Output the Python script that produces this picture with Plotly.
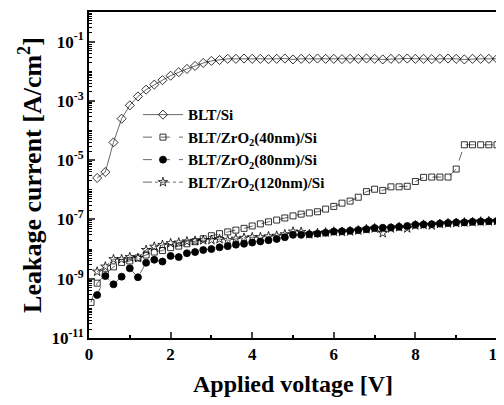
import plotly.graph_objects as go

# Applied voltage [V]
v_si = [0.2, 0.4, 0.6, 0.8, 1.0, 1.2, 1.4, 1.6, 1.8, 2.0, 2.2, 2.4, 2.6, 2.8, 3.0, 3.2, 3.4, 3.6, 3.8, 4.0,
        4.2, 4.4, 4.6, 4.8, 5.0, 5.2, 5.4, 5.6, 5.8, 6.0, 6.2, 6.4, 6.6, 6.8, 7.0, 7.2, 7.4, 7.6, 7.8, 8.0,
        8.2, 8.4, 8.6, 8.8, 9.0, 9.2, 9.4, 9.6, 9.8, 10.0]
# log10 of leakage current density [A/cm^2]
log_si = [-5.6, -5.4, -4.4, -3.6, -3.15, -2.85, -2.62, -2.45, -2.3, -2.15, -2.03, -1.92, -1.82, -1.72, -1.65, -1.62,
          -1.58, -1.58, -1.57, -1.58, -1.58, -1.59, -1.58, -1.57, -1.6, -1.58, -1.58, -1.57, -1.58, -1.58,
          -1.59, -1.58, -1.58, -1.57, -1.58, -1.6, -1.58, -1.58, -1.57, -1.58, -1.58, -1.59, -1.58, -1.57,
          -1.58, -1.6, -1.58, -1.58, -1.58, -1.58]

v_40 = [0.05, 0.2, 0.4, 0.6, 0.8, 1.0, 1.2, 1.4, 1.6, 1.8, 2.0, 2.2, 2.4, 2.6, 2.8, 3.0, 3.2, 3.4, 3.6, 3.8, 4.0,
        4.2, 4.4, 4.6, 4.8, 5.0, 5.2, 5.4, 5.6, 5.8, 6.0, 6.2, 6.4, 6.6, 6.8, 7.0, 7.2, 7.4, 7.6, 7.8, 8.0,
        8.2, 8.4, 8.6, 8.8, 9.0, 9.2, 9.4, 9.6, 9.8, 10.0]
log_40 = [-9.8, -9.15, -8.85, -8.6, -8.45, -8.4, -8.3, -8.2, -8.1, -8.05, -7.95, -7.9, -7.82, -7.75, -7.65,
          -7.55, -7.48, -7.42, -7.36, -7.3, -7.22, -7.15, -7.08, -7.02, -6.95, -6.88, -6.82, -6.78, -6.74,
          -6.65, -6.56, -6.45, -6.38, -6.25, -6.06, -5.98, -6.02, -5.9, -5.9, -5.88, -5.72, -5.58, -5.57,
          -5.57, -5.57, -5.3, -4.48, -4.48, -4.48, -4.48, -4.48]

v_80 = [0.2, 0.4, 0.6, 0.8, 1.0, 1.2, 1.4, 1.6, 1.8, 2.0, 2.2, 2.4, 2.6, 2.8, 3.0, 3.2, 3.4, 3.6, 3.8, 4.0,
        4.2, 4.4, 4.6, 4.8, 5.0, 5.2, 5.4, 5.6, 5.8, 6.0, 6.2, 6.4, 6.6, 6.8, 7.0, 7.2, 7.4, 7.6, 7.8, 8.0,
        8.2, 8.4, 8.6, 8.8, 9.0, 9.2, 9.4, 9.6, 9.8, 10.0]
log_80 = [-9.55, -8.91, -9.19, -8.93, -8.65, -8.95, -8.46, -8.36, -8.42, -8.23, -8.27, -8.14, -8.1, -8.03,
          -8.0, -7.94, -7.9, -7.85, -7.82, -7.78, -7.74, -7.7, -7.66, -7.6, -7.52, -7.52, -7.5, -7.48, -7.45,
          -7.41, -7.4, -7.38, -7.36, -7.33, -7.29, -7.28, -7.27, -7.25, -7.22, -7.18, -7.17, -7.16, -7.14,
          -7.12, -7.1, -7.1, -7.08, -7.07, -7.06, -7.05]

v_120 = [0.2, 0.4, 0.6, 0.8, 1.0, 1.2, 1.4, 1.6, 1.8, 2.0, 2.2, 2.4, 2.6, 2.8, 3.0, 3.2, 3.4, 3.6, 3.8, 4.0,
         4.2, 4.4, 4.6, 4.8, 5.0, 5.2, 5.4, 5.6, 5.8, 6.0, 6.2, 6.4, 6.6, 6.8, 7.0, 7.2, 7.4, 7.6, 7.8, 8.0,
         8.2, 8.4, 8.6, 8.8, 9.0, 9.2, 9.4, 9.6, 9.8, 10.0]
log_120 = [-8.76, -8.59, -8.34, -8.34, -8.27, -8.3, -8.03, -7.92, -7.86, -7.8, -7.78, -7.74, -7.72, -7.7,
           -7.69, -7.66, -7.7, -7.65, -7.62, -7.6, -7.6, -7.57, -7.55, -7.5, -7.41, -7.42, -7.5, -7.46, -7.44,
           -7.41, -7.42, -7.4, -7.37, -7.33, -7.3, -7.46, -7.3, -7.26, -7.3, -7.2, -7.18, -7.2, -7.15, -7.13,
           -7.12, -7.1, -7.09, -7.07, -7.06, -7.05]

names = ["BLT/Si", "BLT/ZrO<sub>2</sub>(40nm)/Si", "BLT/ZrO<sub>2</sub>(80nm)/Si", "BLT/ZrO<sub>2</sub>(120nm)/Si"]

y_tickvals = [1e-11, 1e-9, 1e-7, 1e-5, 1e-3, 1e-1]
y_ticktext = ["10<sup>-11</sup>", "10<sup>-9</sup>", "10<sup>-7</sup>", "10<sup>-5</sup>", "10<sup>-3</sup>", "10<sup>-1</sup>"]
x_tickvals = [0, 2, 4, 6, 8, 10]

series = [
    (v_si, log_si, names[0], "diamond-open", "solid", 7),
    (v_40, log_40, names[1], "square-open", "dash", 6),
    (v_80, log_80, names[2], "circle", "dash", 7),
    (v_120, log_120, names[3], "star-open", "dashdot", 7),
]

fig = go.Figure()
for v, lg, nm, sym, dash, sz in series:
    fig.add_trace(go.Scatter(
        x=v, y=[10 ** a for a in lg], name=f"<b>{nm}</b>", mode="lines+markers",
        line=dict(color="black", width=0.6, dash=dash),
        marker=dict(symbol=sym, size=sz, color="black", line=dict(color="black", width=0.8)),
    ))

font_family = "Liberation Serif, Times New Roman, serif"
# the page body has an 8px margin, so the figure is sized and placed to compensate
fig.update_layout(
    width=496, height=397,
    margin=dict(l=81, r=7, t=4, b=67),
    plot_bgcolor="white", paper_bgcolor="white",
    font=dict(family=font_family, color="black", size=16),
    showlegend=True,
    legend=dict(x=0.12, y=0.735, xanchor="left", yanchor="top", bgcolor="rgba(0,0,0,0)",
                font=dict(family=font_family, size=15, color="black"), tracegroupgap=0,
                itemwidth=40),
)
fig.update_xaxes(
    range=[0, 10], tickvals=x_tickvals, ticktext=[f"<b>{t}</b>" for t in x_tickvals],
    ticks="inside", ticklen=6, tickwidth=1.5, showline=True, linecolor="black", linewidth=2,
    mirror=True, showgrid=False, zeroline=False, automargin=False, ticklabeloverflow="allow",
    minor=dict(dtick=1, ticks="inside", ticklen=3, tickcolor="black"),
    tickfont=dict(size=17, family=font_family),
    title=dict(text="<b>Applied voltage [V]</b>", font=dict(size=24, family=font_family), standoff=12),
)
fig.update_yaxes(
    type="log", range=[-11, 0], tickvals=y_tickvals, ticktext=[f"<b>{t}</b>" for t in y_ticktext],
    ticks="inside", ticklen=6, tickwidth=1.5, showline=True, linecolor="black", linewidth=2,
    mirror=True, showgrid=False, zeroline=False, automargin=False, ticklabeloverflow="allow",
    minor=dict(dtick="D1", ticks="inside", ticklen=3, tickcolor="black", tickwidth=1),
    tickfont=dict(size=17, family=font_family),
    title=dict(text="<b>Leakage current [A/cm<sup>2</sup>]</b>", font=dict(size=26, family=font_family), standoff=2),
)
fig.write_html("out.html")
